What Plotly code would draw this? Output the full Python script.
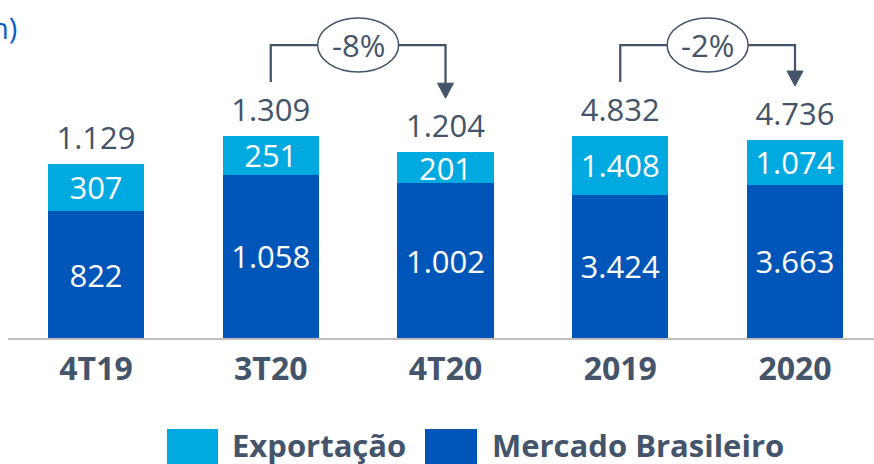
import plotly.graph_objects as go

# ---------------- data ----------------
quarters = ["4T19", "3T20", "4T20"]
years = ["2019", "2020"]
categories = quarters + years
q_export = [307, 251, 201]
q_domestic = [822, 1058, 1002]
q_total = [1129, 1309, 1204]
y_export = [1408, 1074]
y_domestic = [3424, 3663]
y_total = [4832, 4736]
changes = [("3T20", "4T20", "-8%"), ("2019", "2020", "-2%")]
series_names = ["Exportação", "Mercado Brasileiro"]
title_tail = "h)"

# ---------------- style ----------------
C_LIGHT = "#00A9E0"
C_DARK = "#0056B8"
C_TEXT = "#44546A"
C_AXIS = "#BFBFBF"
FONT = "Open Sans"

W, H = 874, 464
PLOT_H = 338          # plot area height (top margin 0)
R_Q = 2190            # quarterly axis range
R_Y = 8086            # yearly axis range
X0 = -0.5036          # x range start
STEP = 174.75         # pixels per category
DOM0 = 8              # x-axis domain start, px
X1 = X0 + (W - DOM0) / STEP
BAR_W = 0.55


def fmt(v):
    return f"{v:,}".replace(",", ".")


def cat_px(name):
    i = categories.index(name)
    return DOM0 + (i - X0) * STEP


def val_py(v, axis_range):
    return PLOT_H * (1 - v / axis_range)


def px2paper(px):
    return px / W


def py2paper(py):
    return 1 - py / PLOT_H


fig = go.Figure()

groups = [(quarters, q_domestic, q_export, q_total, "y"),
          (years, y_domestic, y_export, y_total, "y2")]

inside_font = dict(family=FONT, size=31, color="white")
for cats, dom, exp, tot, yax in groups:
    fig.add_trace(go.Bar(x=cats, y=dom, name=series_names[1], marker_color=C_DARK,
                         width=BAR_W, yaxis=yax, marker_line_width=0, hoverinfo="skip",
                         text=[fmt(d) for d in dom], textposition="inside",
                         insidetextanchor="middle", constraintext="none",
                         textangle=0, insidetextfont=inside_font))
    fig.add_trace(go.Bar(x=cats, y=exp, name=series_names[0], marker_color=C_LIGHT,
                         width=BAR_W, yaxis=yax, marker_line_width=0, hoverinfo="skip",
                         text=[fmt(e) for e in exp], textposition="inside",
                         insidetextanchor="middle", constraintext="none",
                         textangle=0, insidetextfont=inside_font))
    # totals
    fig.add_trace(go.Scatter(x=cats, y=tot, mode="markers+text", yaxis=yax,
                             marker=dict(size=10, color="rgba(0,0,0,0)"),
                             text=[fmt(t) for t in tot], textposition="top center",
                             textfont=dict(family=FONT, size=31, color=C_TEXT), hoverinfo="skip"))

annotations = []
shapes = []

# change brackets
totals_lookup = {c: (t, R_Q) for c, t in zip(quarters, q_total)}
totals_lookup.update({c: (t, R_Y) for c, t in zip(years, y_total)})
LINE_Y = 45
for a, b, label in changes:
    xa, xb = cat_px(a), cat_px(b)
    ya = val_py(*totals_lookup[a]) - 54
    yb = val_py(*totals_lookup[b]) - 54
    xm = (xa + xb) / 2
    ew, eh = 81, 54
    line = dict(color=C_TEXT, width=2.25)
    shapes.append(dict(type="path", xref="paper", yref="paper",
                       path=f"M{px2paper(xa)},{py2paper(ya)} L{px2paper(xa)},{py2paper(LINE_Y)} "
                            f"L{px2paper(xm - ew / 2)},{py2paper(LINE_Y)}",
                       line=line))
    shapes.append(dict(type="path", xref="paper", yref="paper",
                       path=f"M{px2paper(xm + ew / 2)},{py2paper(LINE_Y)} L{px2paper(xb)},{py2paper(LINE_Y)} "
                            f"L{px2paper(xb)},{py2paper(yb - 15)}",
                       line=line))
    shapes.append(dict(type="path", xref="paper", yref="paper",
                       path=f"M{px2paper(xb - 8)},{py2paper(yb - 15)} L{px2paper(xb + 8)},{py2paper(yb - 15)} "
                            f"L{px2paper(xb)},{py2paper(yb)} Z",
                       fillcolor=C_TEXT, line=dict(color=C_TEXT, width=1)))
    shapes.append(dict(type="circle", xref="paper", yref="paper",
                       x0=px2paper(xm - ew / 2), x1=px2paper(xm + ew / 2),
                       y0=py2paper(LINE_Y + eh / 2), y1=py2paper(LINE_Y - eh / 2),
                       line=dict(color=C_TEXT, width=1.5), fillcolor="white"))
    annotations.append(dict(x=px2paper(xm), y=py2paper(LINE_Y), xref="paper", yref="paper",
                            text=label, showarrow=False, xanchor="center", yanchor="middle",
                            font=dict(family=FONT, size=31, color=C_TEXT)))

# cut-off title fragment
annotations.append(dict(x=px2paper(19), y=py2paper(28), xref="paper", yref="paper", text=title_tail,
                        showarrow=False, xanchor="right", yanchor="middle",
                        font=dict(family=FONT, size=29, color="#0B5FC4")))

# custom legend
legend_items = [(series_names[0], C_LIGHT, 167, 218, 230), (series_names[1], C_DARK, 425, 477, 490)]
for name, col, s0, s1, tx in legend_items:
    shapes.append(dict(type="rect", xref="paper", yref="paper",
                       x0=px2paper(s0), x1=px2paper(s1), y0=py2paper(464), y1=py2paper(429),
                       fillcolor=col, line=dict(width=0)))
    annotations.append(dict(x=px2paper(tx), y=py2paper(445), xref="paper", yref="paper",
                            text=f"<b>{name}</b>",
                            showarrow=False, xanchor="left", yanchor="middle",
                            font=dict(family=FONT, size=31, color=C_TEXT)))

fig.update_layout(
    width=W, height=H,
    margin=dict(l=0, r=0, t=0, b=H - PLOT_H, pad=0),
    barmode="stack",
    showlegend=False,
    plot_bgcolor="white", paper_bgcolor="white",
    annotations=annotations,
    shapes=shapes,
    xaxis=dict(type="category", categoryorder="array", categoryarray=categories,
               range=[X0, X1], domain=[DOM0 / W, 1],
               showline=True, linecolor=C_AXIS, linewidth=2, ticks="",
               showgrid=False, zeroline=False,
               tickfont=dict(family=FONT, size=32, color=C_TEXT),
               tickprefix="<b>", ticksuffix="</b>", ticklabelstandoff=2),
    yaxis=dict(range=[0, R_Q], visible=False, fixedrange=True),
    yaxis2=dict(range=[0, R_Y], visible=False, overlaying="y", fixedrange=True),
)

fig.write_html("out.html", config={"displayModeBar": False},
               post_script="document.body.style.margin='0px';")
